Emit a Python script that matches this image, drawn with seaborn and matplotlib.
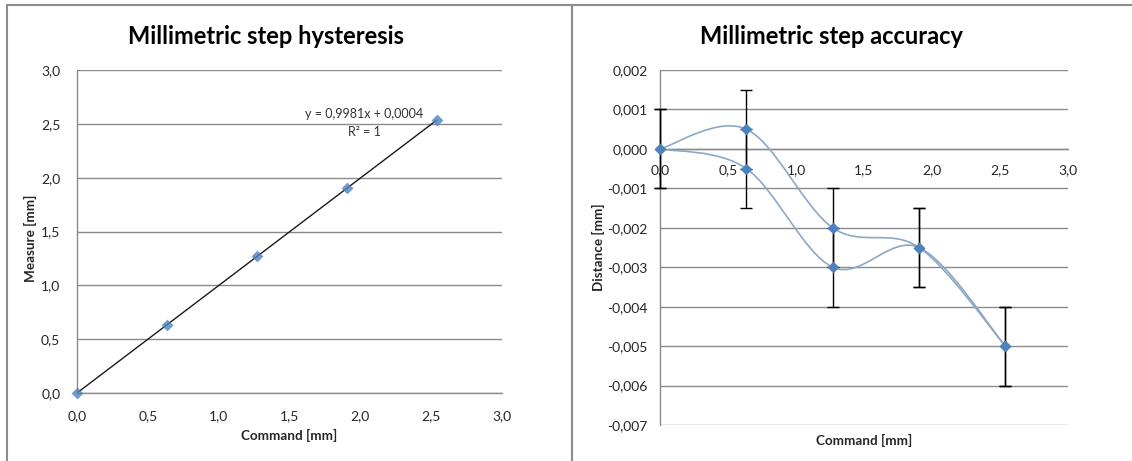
import numpy as np
import matplotlib
matplotlib.use("Agg")
import matplotlib.pyplot as plt
import seaborn as sns
from matplotlib.path import Path
from matplotlib.patches import PathPatch
from matplotlib.lines import Line2D
from matplotlib.ticker import FuncFormatter, MultipleLocator

# data
command = [0.0, 0.635, 1.27, 1.905, 2.54]
measure = [0.0, 0.634, 1.268, 1.901, 2.535]
dist_up = [0.0, 0.0005, -0.002, -0.0025, -0.005]
dist_down = [0.0, -0.0005, -0.003, -0.0025, -0.005]
dist_err = [0.001, 0.001, 0.001, 0.001, 0.001]
fit_text = "y = 0,9981x + 0,0004\nR² = 1"

sns.set_theme(style="white")
plt.rcParams['font.family'] = ['Lato', 'DejaVu Sans']

blue = "#4F81BD"
curve = "#8CA8C6"
grid = "#8A8A8A"
txt = "#262626"


def comma(dec):
    def f(v, pos):
        s = f"{v:.{dec}f}"
        if float(s) == 0:
            s = f"{0:.{dec}f}"
        return s.replace(".", ",")
    return FuncFormatter(f)


def smooth_path(xs, ys):
    # Excel-like smoothed line as cubic bezier segments through the points
    pts = np.column_stack([xs, ys])
    n = len(pts)
    verts = [pts[0]]
    codes = [Path.MOVETO]
    for i in range(n - 1):
        p0 = pts[max(i - 1, 0)]
        p1 = pts[i]
        p2 = pts[i + 1]
        p3 = pts[min(i + 2, n - 1)]
        verts += [p1 + (p2 - p0) / 6, p2 - (p3 - p1) / 6, p2]
        codes += [Path.CURVE4] * 3
    return Path(verts, codes)


def style(ax):
    for s in ["top", "right"]:
        ax.spines[s].set_visible(False)
    for s in ["left", "bottom"]:
        ax.spines[s].set_color(grid)
        ax.spines[s].set_linewidth(1)
    ax.yaxis.grid(True, color=grid, linewidth=1)
    ax.xaxis.grid(False)
    ax.set_axisbelow(True)
    ax.tick_params(length=0, labelsize=10, labelcolor=txt)


fig = plt.figure(figsize=(11.32, 4.61), dpi=100)
W, H = 1132, 461

# left chart
ax1 = fig.add_axes([77 / W, 1 - 393 / H, 425 / W, 323 / H])
sns.regplot(x=command, y=measure, ax=ax1, ci=None, marker="D",
            scatter_kws=dict(s=36, color=blue, clip_on=False, zorder=4, linewidths=0),
            line_kws=dict(color="#1a1a1a", linewidth=1))
ax1.set_xlim(0, 3)
ax1.set_ylim(0, 3)
ax1.xaxis.set_major_locator(MultipleLocator(0.5))
ax1.yaxis.set_major_locator(MultipleLocator(0.5))
ax1.xaxis.set_major_formatter(comma(1))
ax1.yaxis.set_major_formatter(comma(1))
style(ax1)
ax1.tick_params(axis="x", pad=12)
ax1.tick_params(axis="y", pad=12)
ax1.text(2.03, 2.51, fit_text, ha="center", va="center", fontsize=9,
         color="#333333", linespacing=1.65)
ax1.set_xlabel("Command [mm]", fontsize=9.7, fontweight="bold", color=txt)
ax1.set_ylabel("Measure [mm]", fontsize=9.7, fontweight="bold", color=txt)
ax1.xaxis.set_label_coords(0.5, -0.11)
ax1.yaxis.set_label_coords(-0.095, 0.48)
fig.text(266 / W, 1 - 37 / H, "Millimetric step hysteresis", fontsize=17,
         fontweight="bold", color="black", ha="center", va="center")

# right chart
ax2 = fig.add_axes([660 / W, 1 - 425 / H, 408 / W, 355 / H])
for ys in [dist_up, dist_down]:
    ax2.add_patch(PathPatch(smooth_path(command, ys), facecolor="none",
                            edgecolor=curve, linewidth=1.2, zorder=3))
    ax2.errorbar(command, ys, yerr=dist_err, fmt="none", ecolor="black",
                 elinewidth=1, capsize=4, capthick=1, zorder=4, clip_on=False)
    sns.scatterplot(x=command, y=ys, ax=ax2, marker="D", s=36, color=blue,
                    linewidth=0, zorder=5, clip_on=False)
ax2.set_xlim(0, 3)
ax2.set_ylim(-0.007, 0.002)
ax2.xaxis.set_major_locator(MultipleLocator(0.5))
ax2.yaxis.set_major_locator(MultipleLocator(0.001))
ax2.xaxis.set_major_formatter(comma(1))
ax2.yaxis.set_major_formatter(comma(3))
style(ax2)
ax2.spines["bottom"].set_position(("data", 0))
ax2.tick_params(axis="x", pad=11)
ax2.tick_params(axis="y", pad=9)
ax2.set_xlabel("Command [mm]", fontsize=9.7, fontweight="bold", color=txt)
ax2.set_ylabel("Distance [mm]", fontsize=9.7, fontweight="bold", color=txt)
ax2.xaxis.set_label_coords(0.5, -0.025)
ax2.yaxis.set_label_coords(-0.135, 0.5)
fig.text(832 / W, 1 - 37 / H, "Millimetric step accuracy", fontsize=17,
         fontweight="bold", color="black", ha="center", va="center")

# chart area borders
for line in [([7 / W, 1], [1 - 5 / H, 1 - 5 / H]),
             ([7 / W, 7 / W], [0, 1 - 5 / H]),
             ([572 / W, 572 / W], [0, 1 - 5 / H])]:
    fig.add_artist(Line2D(line[0], line[1], transform=fig.transFigure,
                          color="#8C8C8C", linewidth=1.5))

fig.savefig("out.png", dpi=100)
